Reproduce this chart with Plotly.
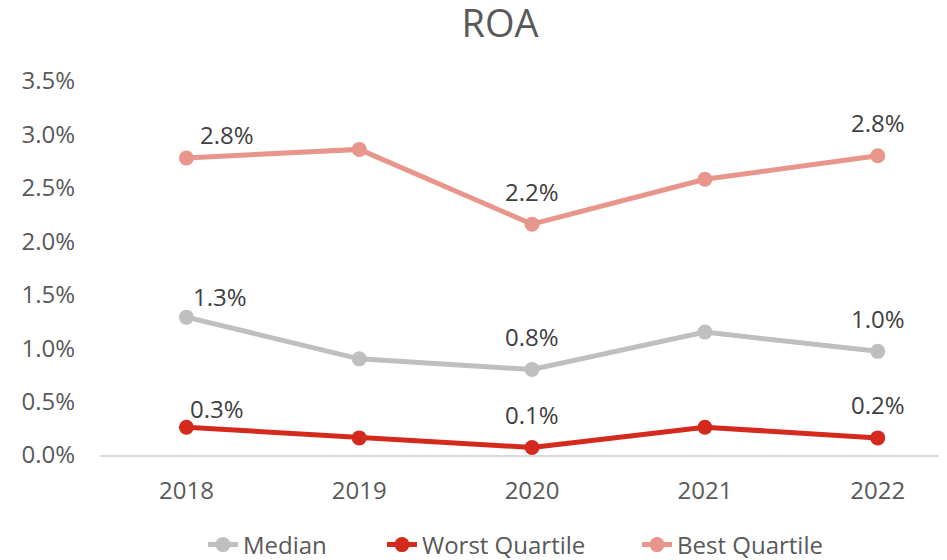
import plotly.graph_objects as go

years = ["2018", "2019", "2020", "2021", "2022"]
median = [1.29, 0.90, 0.80, 1.15, 0.97]
worst = [0.26, 0.16, 0.07, 0.26, 0.16]
best = [2.78, 2.86, 2.16, 2.58, 2.80]
label_idx = [0, 2, 4]
y_ticks = [0.0, 0.5, 1.0, 1.5, 2.0, 2.5, 3.0, 3.5]

series = [
    ("Median", median, "#BFBFBF", dict(xs=34, ys=21, lx=0.1217)),
    ("Worst Quartile", worst, "#D42A1E", dict(xs=31, ys=19, lx=0.3333)),
    ("Best Quartile", best, "#E8968C", dict(xs=41, ys=23, lx=0.6348)),
]

FONT = "Open Sans"
FS = 24
W, H = 939, 552  # page body has an 8px offset
fig = go.Figure()
annotations = []
legends = {}
for k, (name, vals, col, st) in enumerate(series):
    lname = "legend" if k == 0 else f"legend{k+1}"
    fig.add_trace(go.Scatter(
        x=years, y=vals, name=name, mode="lines+markers",
        line=dict(color=col, width=5),
        marker=dict(color=col, size=15),
        cliponaxis=False, legend=lname,
    ))
    legends[lname] = dict(
        orientation="h", x=st["lx"], xanchor="left", y=-0.2406, yanchor="middle",
        font=dict(family=FONT, size=FS, color="#595959"), itemwidth=30,
        bgcolor="rgba(0,0,0,0)",
    )
    for i in label_idx:
        annotations.append(dict(
            x=i, y=vals[i], xref="x", yref="y",
            text=f"{vals[i]:.1f}%", showarrow=False,
            xshift=st["xs"] if i == 0 else 0, yshift=st["ys"] if i == 0 else 33,
            font=dict(family=FONT, size=FS, color="#404040"),
        ))

fig.update_layout(
    width=W, height=H,
    margin=dict(l=92, r=1, t=73, b=105, autoexpand=False),
    paper_bgcolor="white", plot_bgcolor="white",
    font=dict(family=FONT, size=FS, color="#595959"),
    title=dict(text="ROA", x=492/W, xanchor="center", y=1-16/H, yanchor="middle",
               font=dict(family=FONT, size=38, color="#595959")),
    showlegend=True,
    annotations=annotations,
    **legends,
)
fig.update_xaxes(
    type="category", range=[-0.5, 4.395], showgrid=False, showline=True,
    linecolor="#D9D9D9", linewidth=2, ticks="", ticklabelstandoff=13,
    tickfont=dict(family=FONT, size=FS, color="#595959"),
)
fig.update_yaxes(
    range=[0, 3.5], tickvals=y_ticks, ticktext=[f"{v:.1f}%" for v in y_ticks],
    showgrid=False, zeroline=False, showline=False, ticks="", ticklabelstandoff=24,
    tickfont=dict(family=FONT, size=FS, color="#595959"),
)
fig.write_html("out.html")
